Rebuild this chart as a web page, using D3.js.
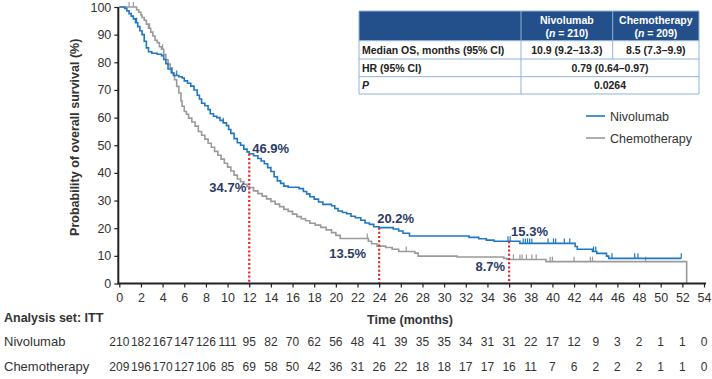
<!DOCTYPE html>
<html><head><meta charset="utf-8">
<script src="https://cdn.jsdelivr.net/npm/d3@7"></script>
<style>
html,body{margin:0;padding:0;background:#fff;}
svg{display:block;font-family:"Liberation Sans",Arial,sans-serif;}
</style></head>
<body><svg id="c" width="712" height="379"></svg>
<script>
// ---- data ----
const nivoSteps = [[0,100],[0.5,99.5],[0.7,98.6],[0.9,97.6],[1.1,96.7],[1.3,95.7],[1.5,94.3],[1.7,92.9],[1.9,91.4],[2.1,90.0],[2.3,87.6],[2.5,85.2],[2.7,83.8],[3.0,83.3],[3.5,82.9],[3.9,82.4],[4.1,81.0],[4.3,79.5],[4.5,77.6],[4.8,76.2],[5.0,75.2],[5.5,74.8],[5.8,74.3],[6.0,73.3],[6.3,72.4],[6.6,71.4],[6.9,70.0],[7.2,68.1],[7.4,66.7],[7.6,65.2],[7.9,64.3],[8.2,62.9],[8.4,61.4],[8.7,60.5],[9.0,60.0],[9.3,59.0],[9.6,58.1],[9.9,57.1],[10.1,55.7],[10.3,54.3],[10.6,52.4],[10.9,50.9],[11.2,50.0],[11.5,48.6],[11.8,47.6],[12.0,46.9],[12.4,46.2],[12.8,45.2],[13.1,44.3],[13.4,43.3],[13.7,41.9],[14.0,40.5],[14.3,38.6],[14.6,37.1],[14.9,36.2],[15.2,35.2],[15.6,34.8],[16.6,34.3],[17.0,33.3],[17.3,32.4],[17.6,31.4],[18.0,30.5],[18.4,29.5],[18.8,28.6],[19.6,28.1],[19.9,27.1],[20.2,26.2],[20.6,25.7],[21.0,25.2],[21.4,24.3],[21.8,23.8],[22.3,22.9],[22.7,21.9],[23.1,21.4],[23.5,20.5],[24.0,20.2],[25.3,19.7],[25.8,19.0],[26.2,18.2],[26.8,17.2],[32.3,16.7],[33.2,16.2],[33.9,15.7],[34.6,15.3],[37.0,14.5],[42.1,13.4],[42.3,12.4],[43.7,11.6],[44.1,10.9],[45.0,9.9],[45.2,9.1]];
const nivoEnd = 51.9;
const nivoCensor = [1.6,5.3,9.6,35.9,36.1,37.3,37.5,37.7,37.9,38.1,39.6,40.1,40.3,41.1,41.6,43.8,44.0,45.5,47.6,47.9,51.9];

const chemoSteps = [[0,100],[1.6,99.0],[1.8,98.1],[2.0,97.1],[2.1,96.2],[2.3,95.2],[2.5,93.8],[2.7,92.3],[2.9,90.9],[3.1,89.5],[3.3,88.0],[3.5,87.1],[3.7,85.6],[3.9,84.7],[4.1,82.8],[4.3,80.9],[4.5,79.4],[4.7,78.0],[4.9,76.1],[5.1,73.7],[5.3,71.3],[5.5,68.9],[5.7,66.0],[5.8,64.1],[6.0,62.2],[6.2,61.2],[6.4,59.8],[6.7,58.4],[7.0,56.9],[7.3,55.0],[7.6,53.6],[7.9,52.2],[8.2,50.7],[8.5,49.3],[8.8,47.8],[9.1,46.4],[9.4,45.0],[9.7,43.5],[10.0,42.1],[10.3,40.7],[10.6,39.2],[10.9,37.8],[11.2,36.8],[11.5,35.9],[11.8,35.0],[12.0,34.7],[12.4,33.5],[12.8,32.5],[13.2,31.6],[13.6,30.6],[14.0,29.7],[14.4,28.7],[14.8,27.8],[15.2,26.8],[15.6,26.1],[16.0,25.1],[16.4,24.2],[16.8,23.4],[17.2,22.7],[17.6,21.8],[18.1,21.1],[18.6,20.3],[19.1,19.4],[19.6,18.4],[20.0,17.4],[20.4,16.3],[23.0,15.3],[23.3,14.4],[23.8,13.5],[24.6,13.0],[25.2,12.4],[25.8,11.6],[27.3,11.0],[27.6,9.9],[31.2,9.6],[35.5,9.1],[35.8,8.7],[39.4,7.9]];
const chemoEnd = 52.4;
const chemoCensor = [0.9,1.3,2.8,4.0,22.9,26.5,36.4,37.0,37.2,37.6,38.1,38.5,39.8,40.0,42.0,43.5,43.7,48.6];

const landmarkTimes = [12,24,36];
const nivoLabels = ["46.9%","20.2%","15.3%"];
const chemoLabels = ["34.7%","13.5%","8.7%"];

const xTicks = [0,2,4,6,8,10,12,14,16,18,20,22,24,26,28,30,32,34,36,38,40,42,44,46,48,50,52,54];
const yTicks = [0,10,20,30,40,50,60,70,80,90,100];
const nivoRisk = [210,182,167,147,126,111,95,82,70,62,56,48,41,39,35,35,34,31,31,22,17,12,9,3,2,1,1,0];
const chemoRisk = [209,196,170,127,106,85,69,58,50,42,36,31,26,22,18,18,17,17,16,11,7,6,2,2,2,1,1,0];

const tableHead = ["Nivolumab","Chemotherapy"];
const tableN = ["210","209"];
const medianRow = ["Median OS, months (95% CI)","10.9 (9.2\u201313.3)","8.5 (7.3\u20139.9)"];
const hrRow = ["HR (95% CI)","0.79 (0.64\u20130.97)"];
const pRow = ["P","0.0264"];

// ---- drawing ----
const svg = d3.select("#c");
const blue = "#1f78c4", grey = "#9a9a9a", navy = "#2b3a67", red = "#e0262b";
const x = d3.scaleLinear().domain([0,54]).range([119.3,704]);
const y = d3.scaleLinear().domain([0,100]).range([283.5,7]);

function survAt(steps,t){
  const i = d3.bisector(d=>d[0]).right(steps,t)-1;
  return steps[Math.max(0,i)][1];
}

const line = d3.line().x(d=>x(d[0])).y(d=>y(d[1])).curve(d3.curveStepAfter);

// chemo first (under)
const chemoPts = chemoSteps.concat([[chemoEnd, chemoSteps[chemoSteps.length-1][1]]]);
svg.append("path").attr("d", line(chemoPts) + "L" + x(chemoEnd) + "," + y(0))
  .attr("fill","none").attr("stroke",grey).attr("stroke-width",1.6);
svg.append("g").selectAll("line").data(chemoCensor).join("line")
  .attr("x1",d=>x(d)).attr("x2",d=>x(d))
  .attr("y1",d=>y(survAt(chemoSteps,d))).attr("y2",d=>y(survAt(chemoSteps,d))-5)
  .attr("stroke",grey).attr("stroke-width",1.2);

const nivoPts = nivoSteps.concat([[nivoEnd, nivoSteps[nivoSteps.length-1][1]]]);
svg.append("path").attr("d", line(nivoPts))
  .attr("fill","none").attr("stroke",blue).attr("stroke-width",1.6);
svg.append("g").selectAll("line").data(nivoCensor).join("line")
  .attr("x1",d=>x(d)).attr("x2",d=>x(d))
  .attr("y1",d=>y(survAt(nivoSteps,d))).attr("y2",d=>y(survAt(nivoSteps,d))-5)
  .attr("stroke",blue).attr("stroke-width",1.2);

// landmark red dotted lines
svg.append("g").selectAll("line").data(landmarkTimes).join("line")
  .attr("x1",d=>x(d)).attr("x2",d=>x(d))
  .attr("y1",d=>y(survAt(nivoSteps,d))).attr("y2",y(0))
  .attr("stroke",red).attr("stroke-width",2.2).attr("stroke-dasharray","2,2.2");

// landmark labels
const lblStyle = s=>s.attr("font-size",13).attr("font-weight","bold").attr("fill",navy);
const nivoLblPos = [[x(12)+3, y(survAt(nivoSteps,12))-1,"start"],[x(24)-2, y(survAt(nivoSteps,24))-5,"start"],[x(36)+2, y(survAt(nivoSteps,36))-5,"start"]];
landmarkTimes.forEach((t,i)=>{
  svg.append("text").attr("x",nivoLblPos[i][0]).attr("y",nivoLblPos[i][1]).attr("text-anchor",nivoLblPos[i][2]).text(nivoLabels[i]).call(lblStyle);
});
const chemoLblPos = [[x(12)-3, y(survAt(chemoSteps,12))+4],[x(24)-13, y(survAt(chemoSteps,24))+12],[x(36)-4, y(survAt(chemoSteps,36))+12]];
landmarkTimes.forEach((t,i)=>{
  svg.append("text").attr("x",chemoLblPos[i][0]).attr("y",chemoLblPos[i][1]).attr("text-anchor","end").text(chemoLabels[i]).call(lblStyle);
});

// axes
const xAxis = d3.axisBottom(x).tickValues(xTicks).tickSize(4).tickSizeOuter(0);
const gx = svg.append("g").attr("transform",`translate(0,${y(0)})`).call(xAxis);
gx.select(".domain").attr("stroke","#222").attr("stroke-width",2).attr("d",`M${x(0)-1},0H${x(54)+2}`);
gx.selectAll(".tick line").attr("stroke","#222").attr("stroke-width",1.2);
gx.selectAll(".tick text").attr("font-size",12.5).attr("fill","#333").attr("font-family","Liberation Sans, Arial, sans-serif").attr("dy","0.9em");

const yAxis = d3.axisLeft(y).tickValues(yTicks).tickSize(4).tickSizeOuter(0).tickPadding(3);
const gy = svg.append("g").attr("transform",`translate(${x(0)-1},0)`).call(yAxis);
gy.select(".domain").attr("stroke","#222").attr("stroke-width",2).attr("d",`M0,${y(0)+1}V${y(100)}`);
gy.selectAll(".tick line").attr("stroke","#222").attr("stroke-width",1.2);
gy.selectAll(".tick text").attr("font-size",12.5).attr("fill","#333").attr("font-family","Liberation Sans, Arial, sans-serif");

// axis titles
svg.append("text").attr("transform",`translate(79,${(y(0)+y(100))/2 - 8}) rotate(-90)`).attr("text-anchor","middle")
  .attr("font-size",12.5).attr("font-weight","bold").attr("fill","#333").text("Probability of overall survival (%)");
svg.append("text").attr("x",410).attr("y",324).attr("text-anchor","middle").attr("font-size",12.5).attr("font-weight","bold").attr("fill","#333").text("Time (months)");
svg.append("text").attr("x",4).attr("y",322).attr("font-size",12.5).attr("font-weight","bold").attr("fill","#333").text("Analysis set: ITT");

// risk table
const riskFont = "Liberation Sans Narrow, Arial Narrow, Liberation Sans, sans-serif";
svg.append("text").attr("x",4).attr("y",346).attr("font-size",13).attr("fill","#333").text("Nivolumab");
svg.append("text").attr("x",4).attr("y",371).attr("font-size",13).attr("fill","#333").text("Chemotherapy");
svg.append("g").selectAll("text").data(nivoRisk).join("text")
  .attr("x",(d,i)=>x(xTicks[i])).attr("y",346).attr("text-anchor","middle")
  .attr("font-size",12).attr("font-family",riskFont).attr("fill","#333").text(d=>d);
svg.append("g").selectAll("text").data(chemoRisk).join("text")
  .attr("x",(d,i)=>x(xTicks[i])).attr("y",371).attr("text-anchor","middle")
  .attr("font-size",12).attr("font-family",riskFont).attr("fill","#333").text(d=>d);

// legend
const lg = svg.append("g");
[[ "Nivolumab", blue, 116],[ "Chemotherapy", grey, 138]].forEach(([n,c,yy])=>{
  lg.append("line").attr("x1",586).attr("x2",605).attr("y1",yy).attr("y2",yy).attr("stroke",c).attr("stroke-width",1.6);
  lg.append("text").attr("x",610).attr("y",yy+4.5).attr("font-size",12.5).attr("fill","#333").text(n);
});

// summary table
const tb = {x0:359, c1:521, c2:612.7, x1:699, r0:11, r1:40.7, r2:59, r3:76.7, r4:94};
const border = "#8fb2dc", head = "#23508a";
const t = svg.append("g").attr("font-size",10.5).attr("font-weight","bold");
t.append("rect").attr("x",tb.x0).attr("y",tb.r0).attr("width",tb.x1-tb.x0).attr("height",tb.r1-tb.r0).attr("fill",head);
t.append("rect").attr("x",tb.x0).attr("y",tb.r1).attr("width",tb.x1-tb.x0).attr("height",tb.r4-tb.r1).attr("fill","#fff");
// lines
const hl = [tb.r0,tb.r1,tb.r2,tb.r3,tb.r4];
hl.forEach(v=>t.append("line").attr("x1",tb.x0).attr("x2",tb.x1).attr("y1",v).attr("y2",v).attr("stroke",border).attr("stroke-width",1));
[[tb.x0,tb.r0,tb.r4],[tb.c1,tb.r0,tb.r4],[tb.c2,tb.r0,tb.r2],[tb.x1,tb.r0,tb.r4]].forEach(([xx,a,b])=>
  t.append("line").attr("x1",xx).attr("x2",xx).attr("y1",a).attr("y2",b).attr("stroke",border).attr("stroke-width",1));
const cc1 = (tb.c1+tb.c2)/2, cc2 = (tb.c2+tb.x1)/2, ccm = (tb.c1+tb.x1)/2;
[[cc1,0],[cc2,1]].forEach(([cx,i])=>{
  t.append("text").attr("x",cx).attr("y",24).attr("text-anchor","middle").attr("fill","#fff").text(tableHead[i]);
  const tt = t.append("text").attr("x",cx).attr("y",36.5).attr("text-anchor","middle").attr("fill","#fff");
  tt.append("tspan").text("(");
  tt.append("tspan").attr("font-style","italic").text("n");
  tt.append("tspan").text(" = " + tableN[i] + ")");
});
t.append("text").attr("x",tb.x0+3).attr("y",54).attr("fill","#222").text(medianRow[0]);
t.append("text").attr("x",cc1).attr("y",54).attr("text-anchor","middle").attr("fill","#222").text(medianRow[1]);
t.append("text").attr("x",cc2).attr("y",54).attr("text-anchor","middle").attr("fill","#222").text(medianRow[2]);
t.append("text").attr("x",tb.x0+3).attr("y",71.8).attr("fill","#222").text(hrRow[0]);
t.append("text").attr("x",ccm).attr("y",71.8).attr("text-anchor","middle").attr("fill","#222").text(hrRow[1]);
t.append("text").attr("x",tb.x0+3).attr("y",89.3).attr("fill","#222").attr("font-style","italic").text(pRow[0]);
t.append("text").attr("x",ccm).attr("y",89.3).attr("text-anchor","middle").attr("fill","#222").text(pRow[1]);
</script></body></html>
